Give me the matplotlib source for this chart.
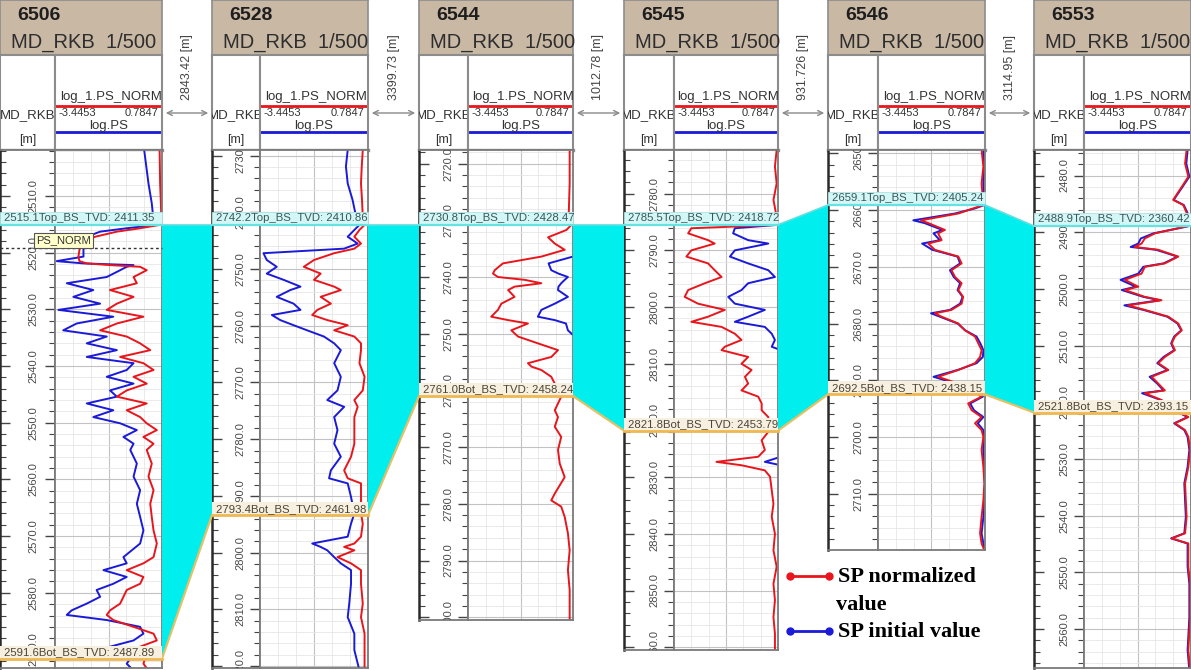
import numpy as np
import matplotlib
matplotlib.use("Agg")
import matplotlib.pyplot as plt
from matplotlib.patches import Rectangle, Polygon, FancyArrowPatch
from matplotlib.ticker import MultipleLocator

plt.rcParams['font.family'] = ['Liberation Sans', 'DejaVu Sans']

# ---------------- data ----------------
wells = ['6506', '6528', '6544', '6545', '6546', '6553']
distances = ['2843.42 [m]', '3399.73 [m]', '1012.78 [m]', '931.726 [m]', '3114.95 [m]']
top_md = [2515.1, 2742.2, 2730.8, 2785.5, 2659.1, 2488.9]
top_tvd = [2411.35, 2410.86, 2428.47, 2418.72, 2405.24, 2360.42]
bot_md = [2591.6, 2793.4, 2761.0, 2821.8, 2692.5, 2521.8]
bot_tvd = [2487.89, 2461.98, 2458.24, 2453.79, 2438.15, 2393.15]
view_top_md = [2501.9, 2729.0, 2717.6, 2772.3, 2649.4, 2475.5]
ps_min, ps_max = -3.4453, 0.7847
cursor_md = 2519.1
legend_labels = ['SP normalized\nvalue', 'SP initial value']
nan = float('nan')

d1 = [2501.9, 2507.8, 2511.3, 2514.3, 2515.1, 2515.7, 2516.3, 2517.2, 2518.1, 2519.0,
      2520.7, 2521.5, 2521.9, 2522.2, 2522.5, 2523.1, 2524.3, 2525.4, 2526.6, 2527.8,
      2529.0, 2530.1, 2531.3, 2532.5, 2533.7, 2534.8, 2536.0, 2537.2, 2538.4, 2539.5,
      2540.7, 2541.9, 2543.1, 2544.3, 2545.4, 2546.6, 2547.8, 2549.0, 2550.1, 2551.3,
      2552.5, 2553.7, 2554.8, 2557.2, 2559.5, 2561.9, 2564.3, 2566.6, 2569.0, 2571.3,
      2573.7, 2574.8, 2576.0, 2577.2, 2578.4, 2579.5, 2580.7, 2581.9, 2583.1, 2583.9,
      2584.8, 2586.0, 2587.2, 2588.4, 2589.5, 2590.7, 2592.5, 2593.7]
r1 = [0.69, 0.71, 0.74, 0.76, 0.71, -0.08, -1.00, -1.86, -2.32, -2.46,
      -2.52, -2.48, -2.19, -1.27, -0.08, 0.18, -0.34, -0.21, -1.27, -0.34,
      -1.00, -1.40, 0.05, -1.00, -1.66, -0.61, -0.08, 0.32, -0.87, 0.05,
      0.45, -0.34, 0.18, -0.61, -1.00, 0.18, -0.61, -0.08, 0.18, 0.58,
      0.05, 0.45, 0.18, 0.38, 0.25, 0.45, 0.32, 0.38, 0.45, 0.58,
      0.45, 0.05, -0.61, 0.05, -0.08, -0.61, -0.74, -0.87, -1.27, -1.40,
      -1.14, -0.34, 0.45, 0.58, -0.08, 0.18, 0.05, 0.25]
b1 = [0.08, 0.25, 0.38, 0.45, 0.58, -0.61, -1.66, -2.19, -2.32, -2.32,
      -2.32, -3.38, -2.32, -0.34, -0.61, -0.87, -1.40, -2.98, -1.93, -2.72,
      -1.66, -3.31, -1.14, -2.59, -3.12, -1.40, -2.19, -1.00, -2.19, -0.34,
      -0.61, -1.40, -0.34, -1.27, -1.00, -2.19, -1.14, -1.93, -0.87, -0.21,
      -0.74, -0.34, -0.47, -0.21, -0.34, -0.08, -0.21, -0.08, 0.05, -0.08,
      -0.74, -0.61, -1.53, -0.61, -1.14, -1.80, -1.66, -2.19, -2.79, -2.98,
      -1.40, -0.08, 0.05, -0.34, -1.27, -0.34, -0.61, -0.34]

d2 = [2729.0, 2731.9, 2734.9, 2737.8, 2740.8, 2742.2, 2743.1, 2744.3, 2745.5, 2746.4,
      2747.2, 2748.4, 2749.6, 2750.8, 2751.9, 2753.1, 2753.7, 2754.9, 2756.1, 2757.2,
      2758.1, 2759.0, 2759.9, 2760.8, 2761.9, 2763.1, 2764.3, 2766.6, 2769.0, 2771.4,
      2773.1, 2774.3, 2776.1, 2778.4, 2780.8, 2783.1, 2785.5, 2786.9, 2787.8, 2790.2,
      2793.1, 2794.9, 2797.2, 2798.4, 2799.0, 2799.6, 2800.8, 2801.9, 2803.1, 2805.5,
      2809.0, 2811.4, 2814.3, 2817.2, 2820.8]
r2 = [0.58, 0.54, 0.51, 0.55, 0.58, 0.65, 0.45, 0.25, 0.51, 0.25,
      -0.54, -1.33, -1.73, -1.07, -1.33, -0.54, -0.28, -1.07, -0.67, -1.20,
      -1.40, -0.81, -0.01, -0.54, 0.25, 0.51, 0.51, 0.45, 0.65, 0.58,
      0.25, 0.38, 0.25, 0.25, 0.25, 0.12, -0.15, -0.01, 0.51, 0.51,
      0.51, 0.58, 0.51, 0.25, -0.15, 0.25, -0.41, 0.12, 0.51, 0.51,
      0.58, 0.51, 0.65, 0.65, 0.65]
b2 = [-0.01, -0.08, -0.01, 0.18, 0.32, 0.45, 0.25, -0.01, 0.38, -0.15,
      -3.31, -3.18, -2.79, -3.18, -2.52, -1.86, -2.26, -2.79, -2.13, -1.86,
      -2.98, -2.65, -2.13, -1.60, -0.94, -0.54, -0.28, -0.54, -0.28, -0.41,
      -0.81, -0.15, -0.54, -0.41, -0.54, -0.28, -0.67, -0.74, -0.01, 0.12,
      0.25, 0.12, -0.01, -1.40, -1.07, -0.81, -0.54, -0.28, 0.12, 0.12,
      0.05, -0.01, 0.25, 0.25, 0.45]

d3 = [2717.6, 2723.5, 2729.4, 2730.8, 2731.7, 2733.0, 2734.1, 2735.2, 2736.4, 2737.6,
      2738.8, 2739.4, 2740.0, 2740.5, 2741.1, 2741.7, 2742.3, 2743.5, 2744.7, 2745.8,
      2747.0, 2747.6, 2748.2, 2749.4, 2750.5, 2751.7, 2752.9, 2754.1, 2755.2, 2755.8,
      2756.4, 2757.6, 2758.8, 2759.9, 2761.1, 2762.3, 2763.5, 2764.7, 2766.4, 2768.2,
      2770.5, 2772.9, 2775.3, 2778.2, 2779.4, 2780.5, 2782.3, 2785.2, 2788.2, 2791.7,
      2795.2, 2800.8]
r3 = [0.65, 0.65, 0.61, 0.72, 0.52, -0.22, 0.05, 0.45, -0.49, -2.04,
      -2.37, -2.44, -2.24, -1.16, -0.49, -1.57, -1.83, -1.57, -2.10, -2.24,
      -2.51, -1.83, -1.03, -1.70, -1.43, -0.63, 0.18, -0.09, -1.03, -0.89,
      -0.49, -0.09, 0.05, 0.18, 0.31, 0.18, 0.05, 0.18, 0.05, 0.31,
      0.18, 0.25, 0.45, 0.05, -0.09, 0.31, 0.45, 0.58, 0.65, 0.58,
      0.65, 0.65]
b3 = [nan, nan, nan, nan, nan, nan, nan, nan, 0.78, -0.20,
      -0.09, 0.20, 0.58, 0.45, 0.31, 0.20, 0.18, 0.58, 0.05, -0.49,
      -0.63, 0.05, 0.50, 0.58, 0.85, nan, nan, nan, nan, nan,
      nan, nan, nan, nan, nan, nan, nan, nan, nan, nan,
      nan, nan, nan, nan, nan, nan, nan, nan, nan, nan,
      nan, nan]

d4 = [2772.3, 2775.2, 2778.2, 2781.1, 2784.1, 2785.5, 2786.1, 2787.0, 2788.2, 2788.8,
      2790.0, 2791.1, 2792.3, 2793.5, 2794.7, 2795.8, 2797.0, 2798.2, 2799.4, 2800.5,
      2801.7, 2802.6, 2803.5, 2804.7, 2805.8, 2807.0, 2807.6, 2808.8, 2810.0, 2811.1,
      2812.3, 2813.5, 2814.7, 2815.8, 2817.0, 2818.2, 2819.4, 2820.5, 2822.0, 2823.5,
      2825.2, 2826.4, 2827.3, 2827.9, 2828.8, 2829.9, 2832.3, 2834.7, 2837.0, 2840.0,
      2842.9, 2845.8, 2848.8, 2851.7, 2854.7, 2857.6, 2860.5]
r4 = [0.73, 0.66, 0.73, 0.60, 0.73, 0.78, -2.74, -2.87, -2.06, -1.79,
      -2.74, -2.94, -2.06, -1.79, -1.51, -2.19, -2.87, -3.01, -2.47, -1.38,
      -2.06, -2.74, -1.51, -0.97, -0.70, -1.38, -1.51, -0.43, -0.70, -0.29,
      -0.56, -0.43, -0.70, -0.02, 0.12, 0.12, 0.39, 0.39, 0.39, 0.12,
      0.25, -0.02, -1.72, -0.70, 0.25, 0.46, 0.53, 0.60, 0.53, 0.66,
      0.60, 0.73, 0.60, 0.66, 0.60, 0.66, 0.66]
b4 = [nan, nan, nan, nan, nan, 0.78, -0.97, -1.04, -0.43, 0.39,
      -0.97, -1.17, -0.43, 0.39, 0.66, -0.43, -0.70, -1.24, -0.97, 0.25,
      -0.43, -0.97, 0.25, 0.53, 0.66, 0.53, 0.90, nan, nan, nan,
      nan, nan, nan, nan, nan, nan, nan, nan, nan, nan,
      nan, 0.90, 0.25, 0.90, nan, nan, nan, nan, nan, nan,
      nan, nan, nan, nan, nan, nan, nan]

d5 = [2649.4, 2652.3, 2655.3, 2659.1, 2659.7, 2660.6, 2661.8, 2662.3, 2663.5, 2664.1,
      2665.3, 2665.9, 2667.0, 2668.2, 2669.4, 2670.6, 2671.8, 2672.9, 2674.1, 2675.3,
      2676.5, 2677.6, 2678.2, 2678.8, 2680.0, 2681.2, 2682.3, 2683.5, 2684.7, 2685.9,
      2687.0, 2688.2, 2689.4, 2690.6, 2691.8, 2692.9, 2694.1, 2695.3, 2696.5, 2697.6,
      2698.8, 2700.0, 2702.3, 2705.3, 2708.2, 2711.2, 2714.1, 2717.0, 2718.8, 2720.0]
r5 = [0.65, 0.72, 0.65, 0.72, 0.32, -0.27, -1.75, -1.45, -0.80, -1.07,
      -0.93, -1.46, -1.20, -0.27, -0.14, -0.54, -0.40, -0.14, -0.27, -0.08,
      -0.14, -0.54, -1.20, -0.93, -0.27, -0.01, 0.39, 0.52, 0.65, 0.59,
      0.39, -0.27, -1.07, -0.27, 0.26, 0.65, 0.12, 0.26, 0.65, 0.39,
      0.65, 0.72, 0.65, 0.72, 0.76, 0.72, 0.65, 0.59, 0.65, 0.76]
b5 = [0.72, 0.76, 0.72, 0.76, 0.39, -0.40, -2.05, -1.60, -0.90, -1.25,
      -1.00, -1.70, -1.30, -0.30, -0.20, -0.60, -0.45, -0.20, -0.30, -0.10,
      -0.20, -0.60, -1.35, -1.00, -0.30, 0.00, 0.45, 0.60, 0.72, 0.70,
      0.45, -0.30, -1.25, -0.35, 0.30, 0.70, 0.20, 0.35, 0.72, 0.50,
      0.72, 0.76, 0.72, 0.76, 0.78, 0.76, 0.72, 0.65, 0.72, 0.78]

d6 = [2475.5, 2477.9, 2480.2, 2482.0, 2484.3, 2485.2, 2487.3, 2488.9, 2489.3, 2490.2,
      2491.1, 2492.0, 2492.6, 2493.1, 2494.3, 2495.5, 2496.1, 2497.3, 2498.4, 2499.6,
      2500.2, 2501.4, 2502.0, 2502.9, 2503.7, 2504.9, 2506.1, 2507.3, 2508.4, 2509.6,
      2510.8, 2512.0, 2513.1, 2514.3, 2515.5, 2516.7, 2517.9, 2518.4, 2519.6, 2520.8,
      2521.7, 2522.6, 2523.7, 2524.9, 2526.1, 2528.4, 2531.4, 2534.3, 2540.2, 2543.1,
      2544.0, 2544.9, 2549.0, 2552.0, 2557.9, 2563.7, 2567.3]
r6 = [0.61, 0.55, 0.68, 0.42, 0.08, 0.48, 0.68, 0.68, 0.28, -0.64,
      -1.04, -1.17, -1.44, -0.51, 0.28, -0.25, -1.04, -1.17, -1.83, -1.30,
      -1.83, -1.04, -0.38, -1.70, -1.04, -0.11, 0.28, 0.42, 0.15, 0.02,
      0.15, -0.25, -0.51, -0.11, -0.77, -0.51, -0.25, -1.04, -0.38, 0.02,
      0.28, 0.68, 0.15, 0.55, 0.68, 0.75, 0.68, 0.55, 0.61, 0.55,
      0.02, 0.68, 0.68, 0.75, 0.75, 0.68, 0.75]
b6 = [0.65, 0.60, 0.72, 0.45, 0.10, 0.50, 0.72, 0.72, 0.30, -0.70,
      -1.20, -1.30, -1.60, -0.60, 0.25, -0.30, -1.10, -1.30, -2.00, -1.40,
      -1.95, -1.10, -0.45, -1.85, -1.10, -0.15, 0.25, 0.40, 0.12, 0.00,
      0.12, -0.30, -0.55, -0.15, -0.85, -0.55, -0.30, -1.15, -0.40, 0.00,
      0.25, 0.65, 0.12, 0.52, 0.65, 0.72, 0.65, 0.52, 0.58, 0.52,
      0.00, 0.65, 0.65, 0.72, 0.72, 0.65, 0.72]

depths = [d1, d2, d3, d4, d5, d6]
ps_norm = [r1, r2, r3, r4, r5, r6]
ps_raw = [b1, b2, b3, b4, b5, b6]

# ---------------- layout (pixels) ----------------
W, H = 1191, 670
LX = [0, 212, 419, 624, 828, 1034]
SX = [55, 260, 468, 674, 878, 1084]
RX = [162, 368, 573, 778, 985, 1191]
BOT = [668, 668, 620, 650, 550, 668]
HDR_B, SUB_B = 55, 150
PX_PER_M = 5.67

RED = '#e8161c'
BLUE = '#1a1ad8'
BROWN = '#c8b8a4'
CYAN = '#00eeee'
EDGE = '#808080'

fig = plt.figure(figsize=(W / 100, H / 100), dpi=100)
fig.patch.set_facecolor('white')


def px_axes(x0, y0, x1, y1, **kw):
    return fig.add_axes([x0 / W, 1 - y1 / H, (x1 - x0) / W, (y1 - y0) / H], **kw)


def spines(ax, color=EDGE, lw=1.3):
    for s in ax.spines.values():
        s.set_color(color)
        s.set_linewidth(lw)


def clipped_text(ax, *args, **kw):
    t = ax.text(*args, **kw)
    t.set_clip_box(ax.bbox)
    t.set_clip_on(True)
    return t


ov = px_axes(0, 0, W, H, zorder=10)
ov.set_xlim(0, W)
ov.set_ylim(H, 0)
ov.axis('off')


def to_ov(ax, x, y, coords='data'):
    tr = ax.transData if coords == 'data' else ax.transAxes
    return ov.transData.inverted().transform(tr.transform((x, y)))


depth_axes, log_axes = [], []
for i in range(len(wells)):
    lx, sx, rx, bt = LX[i], SX[i], RX[i], BOT[i]
    vtop = view_top_md[i]
    vbot = vtop + (bt - SUB_B) / PX_PER_M

    # header
    hax = px_axes(lx, 0, rx, HDR_B)
    hax.set_facecolor(BROWN)
    hax.set_xticks([]); hax.set_yticks([])
    spines(hax, '#8c8c8c', 1.2)
    ov.text(lx + 17, 16, wells[i], fontsize=14, fontweight='bold', color='#1e1e1e',
            ha='left', va='center')
    ov.text(lx + 11, 42, 'MD_RKB  1/500', fontsize=14.5, color='#2e2e2e',
            ha='left', va='center')

    # sub-header
    sd = px_axes(lx, HDR_B, sx, SUB_B)
    sl = px_axes(sx, HDR_B, rx, SUB_B)
    for a in (sd, sl):
        a.set_xlim(0, 1); a.set_ylim(0, 1)
        a.set_xticks([]); a.set_yticks([])
        spines(a, '#8c8c8c', 1.5)
    sd.spines['bottom'].set_linewidth(2.4)
    sl.spines['bottom'].set_linewidth(2.4)
    clipped_text(sd, 0.5, 0.37, 'MD_RKB', ha='center', va='center', fontsize=9.5, color='#333333')
    clipped_text(sd, 0.5, 0.11, '[m]', ha='center', va='center', fontsize=9, color='#333333')
    clipped_text(sl, 0.52, 0.56, 'log_1.PS_NORM', ha='center', va='center', fontsize=9.5, color='#333333')
    sl.plot([0, 1], [0.465, 0.465], color=RED, lw=2)
    clipped_text(sl, 0.03, 0.385, f'{ps_min:.4f}', ha='left', va='center', fontsize=8, color='#333333')
    clipped_text(sl, 0.97, 0.385, f'{ps_max:.4f}', ha='right', va='center', fontsize=8, color='#333333')
    clipped_text(sl, 0.5, 0.255, 'log.PS', ha='center', va='center', fontsize=9.5, color='#333333')
    sl.plot([0, 1], [0.19, 0.19], color=BLUE, lw=2)

    # depth track
    dax = px_axes(lx, SUB_B, sx, bt)
    dax.set_xlim(0, 1)
    dax.set_ylim(vbot, vtop)
    dax.set_xticks([])
    dax.yaxis.set_major_locator(MultipleLocator(10))
    dax.yaxis.set_minor_locator(MultipleLocator(2))
    dax.tick_params(axis='y', which='both', direction='in', left=True, right=True,
                    labelleft=False, colors='#444444')
    dax.tick_params(axis='y', which='major', length=7, width=1)
    dax.tick_params(axis='y', which='minor', length=4, width=0.8)
    spines(dax, '#7a7a7a', 1.3)
    dax.spines['left'].set_color('#2a2a2a')
    dax.spines['left'].set_linewidth(1.8)
    for d in np.arange(np.ceil(vtop / 10) * 10, vbot, 10):
        clipped_text(dax, 0.6, d, f'{d:.1f}', transform=dax.get_yaxis_transform(),
                     rotation=90, ha='center', va='center', fontsize=8, color='#4a4a4a')

    # log track
    lax = px_axes(sx, SUB_B, rx, bt)
    lax.set_xlim(ps_min, ps_max)
    lax.set_ylim(vbot, vtop)
    xs = np.linspace(ps_min, ps_max, 7)
    lax.set_xticks([xs[3]])
    lax.set_xticks([xs[1], xs[2], xs[4], xs[5]], minor=True)
    lax.yaxis.set_major_locator(MultipleLocator(10))
    lax.yaxis.set_minor_locator(MultipleLocator(2))
    lax.tick_params(which='both', length=0, labelbottom=False, labelleft=False)
    lax.grid(which='major', color='#c2c2c2', lw=0.8)
    lax.grid(which='minor', color='#e6e6e6', lw=0.6)
    lax.set_axisbelow(True)
    spines(lax, '#7a7a7a', 1.3)
    lax.plot(ps_raw[i], depths[i], color=BLUE, lw=1.4, solid_joinstyle='round')
    lax.plot(ps_norm[i], depths[i], color=RED, lw=1.4, solid_joinstyle='round')

    depth_axes.append(dax)
    log_axes.append(lax)

# ---------------- correlation fills between wells ----------------
for i in range(len(wells) - 1):
    a, b = log_axes[i], depth_axes[i + 1]
    xr = to_ov(a, 1, 0, 'axes')[0]
    xl = to_ov(b, 0, 0, 'axes')[0]
    ytl = to_ov(a, ps_max, top_md[i])[1]
    ybl = to_ov(a, ps_max, bot_md[i])[1]
    ytr = to_ov(b, 0, top_md[i + 1])[1]
    ybr = to_ov(b, 0, bot_md[i + 1])[1]
    ov.add_patch(Polygon([(xr, ytl), (xl, ytr), (xl, ybr), (xr, ybl)], closed=True,
                         fc=CYAN, ec='none', zorder=1))
    ov.plot([xr, xl], [ytl, ytr], color='#62dede', lw=1.2, zorder=2)
    ov.plot([xr, xl], [ybl, ybr], color='#e6c064', lw=1.6, zorder=2)
    # distance annotation in header gap
    xc = (xr + xl) / 2
    ov.text(xc, 67, distances[i], rotation=90, ha='center', va='center',
            fontsize=9, color='#444444')
    ov.add_patch(FancyArrowPatch((xr + 1, 113), (xl - 1, 113), arrowstyle='<->',
                                 mutation_scale=9, color='#8a8a8a', lw=1.0))

# ---------------- horizon markers ----------------
for i in range(len(wells)):
    lax = log_axes[i]
    x0 = to_ov(depth_axes[i], 0, 0, 'axes')[0]
    x1 = to_ov(lax, 1, 0, 'axes')[0]
    yt = to_ov(lax, ps_max, top_md[i])[1]
    yb = to_ov(lax, ps_max, bot_md[i])[1]
    ov.add_patch(Rectangle((x0, yt - 13), x1 - x0, 13, fc='#d3f6f6', ec='#b2e2e2',
                           lw=0.6, zorder=3))
    ov.plot([x0, x1], [yt, yt], color='#66e2e2', lw=1.6, zorder=4)
    ov.text(x0 + 4, yt - 6.5, f'{top_md[i]:.1f}Top_BS_TVD: {top_tvd[i]:.2f}',
            fontsize=8.2, color='#3c5656', ha='left', va='center', zorder=5)
    ov.add_patch(Rectangle((x0, yb - 13), x1 - x0, 13, fc='#f7efdf', ec='none',
                           zorder=3))
    ov.plot([x0, x1], [yb, yb], color='#efb850', lw=2, zorder=4)
    ov.text(x0 + 4, yb - 6.5, f'{bot_md[i]:.1f}Bot_BS_TVD: {bot_tvd[i]:.2f}',
            fontsize=8.2, color='#4a4438', ha='left', va='center', zorder=5)

# cursor and tooltip on the first well
yc = to_ov(log_axes[0], ps_max, cursor_md)[1]
xa = to_ov(depth_axes[0], 0, 0, 'axes')[0]
xb = to_ov(log_axes[0], 1, 0, 'axes')[0]
ov.plot([xa, xb], [yc, yc], color='#333333', lw=1, ls=(0, (2, 2)), zorder=6)
ov.text(36, yc - 7, 'PS_NORM', fontsize=8, color='#333333', ha='left', va='center',
        zorder=7, bbox=dict(boxstyle='square,pad=0.2', fc='#ffffcc', ec='#555555', lw=0.8))

# ---------------- legend ----------------
leg_font = dict(family=['Liberation Serif', 'DejaVu Serif'], weight='bold', size=16)
for label, color, y in zip(legend_labels, [RED, BLUE], [576, 631]):
    ov.plot([790, 829], [y, y], color=color, lw=2, marker='o', ms=5, zorder=8)
    for k, line in enumerate(label.split('\n')):
        ov.text(838 - 2 * k, y + 1 + 28 * k, line, fontdict=leg_font, color='black',
                ha='left', va='center', zorder=8)

fig.savefig('out.png', dpi=100, facecolor='white')
